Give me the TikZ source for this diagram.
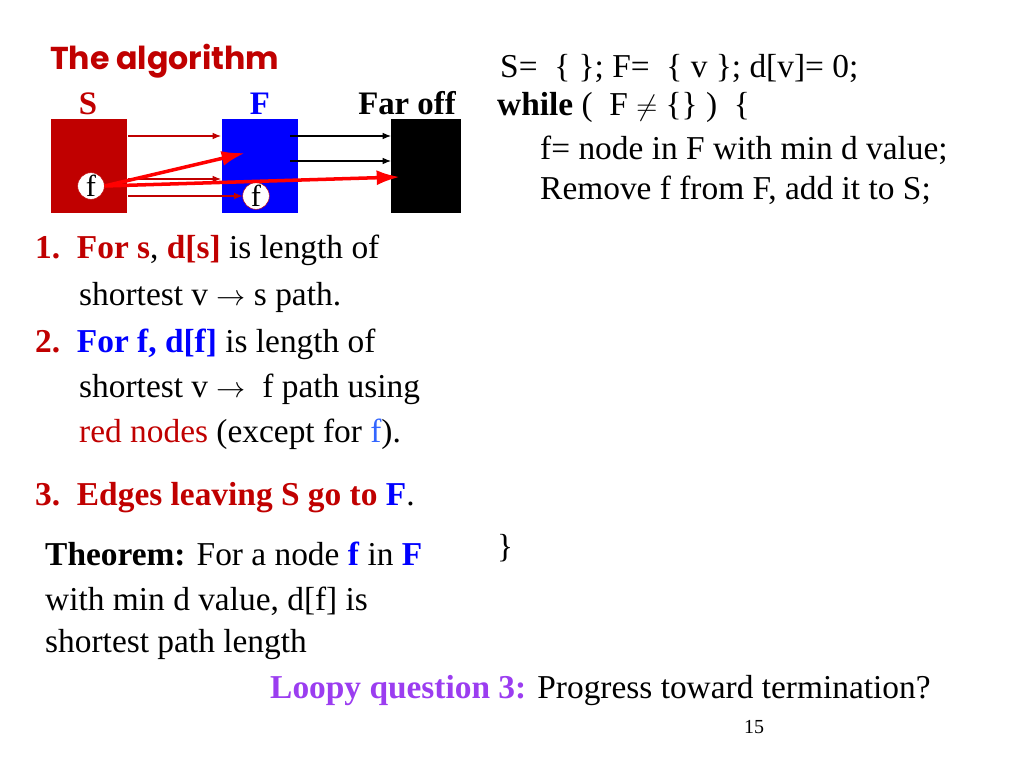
\documentclass[tikz,border=0pt]{standalone}
\usepackage{fontspec}
\setmainfont{Liberation Serif}
\newfontfamily\titlefont{Poppins}
\usetikzlibrary{positioning,arrows.meta}
\definecolor{sred}{HTML}{C00000}
\definecolor{fblue}{HTML}{0000FF}
\definecolor{lblue}{HTML}{3366FF}
\definecolor{loopy}{HTML}{9B3DF0}
\tikzset{>=latex}
\tikzset{
  txt/.style={anchor=base west, inner sep=0pt, font=\fontsize{28.5}{32}\selectfont},
  setbox/.style={inner sep=0pt, minimum width=2.3cm, minimum height=2.8cm},
  fnode/.style={circle, draw=sred, fill=white, inner sep=0pt, minimum size=0.8cm, font=\fontsize{26}{28}\selectfont},
  thin arrow/.style={-{Latex[length=2.5mm,width=2mm]}, sred, line width=0.9pt},
  thick arrow/.style={-{Latex[length=7mm,width=4.5mm]}, red, line width=3pt}
}
\begin{document}
\begin{tikzpicture}[x=0.03cm, y=-0.03cm]
\useasboundingbox (0,0) rectangle (1024,768);
% heading and set boxes
\node[txt, text=sred, font=\titlefont\bfseries\fontsize{27}{30}\selectfont] (title) at (50,70) {The algorithm};
\node[setbox, fill=sred] (S) at (89,166) {};
\node[setbox, fill=fblue] (F) at (260,166) {};
\node[setbox, fill=black, minimum width=2.1cm] (far) at (426,166) {};
\node[txt, text=sred, font=\bfseries\fontsize{28}{32}\selectfont, anchor=base] (Slab) at (88,115) {S};
\node[txt, text=fblue, font=\bfseries\fontsize{28}{32}\selectfont, anchor=base] (Flab) at (260,115) {F};
\node[txt, font=\bfseries\fontsize{28}{32}\selectfont, anchor=base] (farlab) at (407,115) {Far off};
\node[fnode] (fs) at (91,186) {f};
\node[fnode] (ff) at (256,196) {f};
\coordinate (s1) at (128,136); \coordinate (f1) at (221,136);
\coordinate (s2) at (128,179); \coordinate (f2) at (221,179);
\coordinate (s3) at (128,196);
\coordinate (g1) at (290,136); \coordinate (h1) at (391,136);
\coordinate (g2) at (290,161); \coordinate (h2) at (391,161);
\coordinate (t1) at (245,153); \coordinate (t2) at (400,177);
\draw[thin arrow] (s1) -- (f1);
\draw[thin arrow] (s2) -- (f2);
\draw[thin arrow] (s3) -- (ff);
\draw[-{Latex[length=2.5mm,width=2mm]}, line width=0.9pt] (g1) -- (h1);
\draw[-{Latex[length=2.5mm,width=2mm]}, line width=0.9pt] (g2) -- (h2);
\draw[thick arrow] (fs.east) -- (t1);
\draw[thick arrow] (fs.east) -- (t2);
% algorithm
\node[txt] (c1) at (500,78) {S=~ \{ \}; F=~ \{ v \}; d[v]= 0;};
\node[txt] (c2) at (497,116) {\textbf{while} ( ~F $\neq$ \{\} ) ~\{};
\node[txt] (c3) at (540,160) {f= node in F with min d value;};
\node[txt] (c4) at (540,200) {Remove f from F, add it to S;};
\node[txt] (c5) at (497,558) {\}};
% invariants
\node[txt, text=sred] (n1) at (35,259) {\textbf{1.~~For s}\textcolor{black}{,} \textbf{d[s]} \textcolor{black}{is length of}};
\node[txt] (n1b) at (79,306) {shortest v $\rightarrow$ s path.};
\node[txt, text=fblue] (n2) at (35,353) {\textcolor{sred}{\textbf{2.}}~~\textbf{For f, d[f]} \textcolor{black}{is length of}};
\node[txt] (n2b) at (79,398) {shortest v $\rightarrow$~ f path using};
\node[txt] (n2c) at (79,443) {\textcolor{sred}{red nodes} (except for \textcolor{lblue}{f}).};
\node[txt, text=sred] (n3) at (35,506) {\textbf{3.~~Edges leaving S go to \textcolor{fblue}{F}}\textcolor{black}{.}};
% theorem
\node[txt] (th1) at (45,566) {\textbf{Theorem:} For a node \textcolor{fblue}{\textbf{f}} in \textcolor{fblue}{\textbf{F}}};
\node[txt] (th2) at (45,610) {with min d value, d[f] is};
\node[txt] (th3) at (45,652) {shortest path length};
\node[txt] (loop) at (270,698) {\textcolor{loopy}{\textbf{Loopy question 3:}} Progress toward termination?};
\node[txt, font=\fontsize{17}{19}\selectfont] (pg) at (744,733) {15};
\end{tikzpicture}
\end{document}
